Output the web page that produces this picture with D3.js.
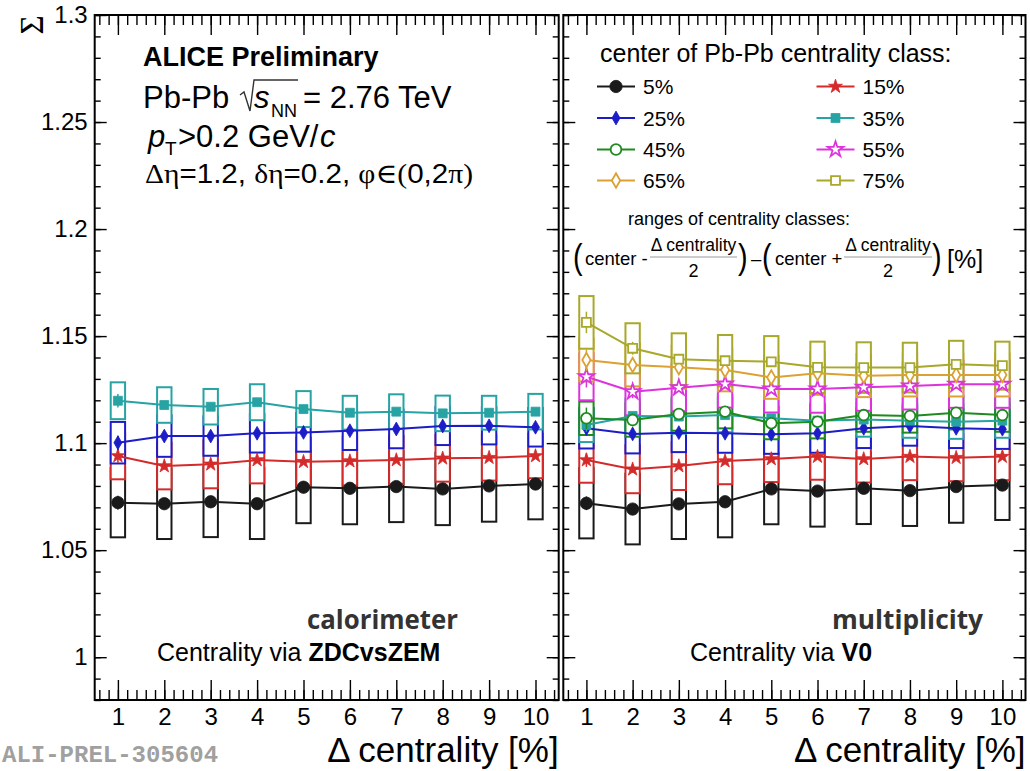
<!DOCTYPE html>
<html lang="en">
<head>
<meta charset="UTF-8" />
<title>Sigma vs delta centrality</title>
<script src="https://d3js.org/d3.v7.min.js"></script>
<style>
  body { margin: 0; background: #fff; }
  text { font-family: "Liberation Sans", Arial, sans-serif; fill: #000; }
  text.serif, tspan.serif { font-family: "Liberation Serif", "DejaVu Serif", serif; }
  text.mono { font-family: "Liberation Mono", "Courier New", monospace; }
  text.label { font-family: "Open Sans", "DejaVu Sans", sans-serif; }
</style>
</head>
<body>
<svg id="chart" width="1030" height="771"></svg>
<script>
// ---- data ----
const deltaCentrality = [1, 2, 3, 4, 5, 6, 7, 8, 9, 10];
const classNames = ["5%", "15%", "25%", "35%", "45%", "55%", "65%", "75%"];
const yTicks = [1, 1.05, 1.1, 1.15, 1.2, 1.25, 1.3];
const yTickLabels = ["1", "1.05", "1.1", "1.15", "1.2", "1.25", "1.3"];

// centrality via ZDCvsZEM
const zdc05 = [1.0722, 1.0717, 1.0726, 1.0717, 1.0794, 1.0789, 1.0797, 1.0786, 1.0800, 1.0809];
const zdc05Sys = [0.0162, 0.0165, 0.0165, 0.0165, 0.0168, 0.0168, 0.0166, 0.0169, 0.0167, 0.0165];
const zdc15 = [1.0940, 1.0893, 1.0901, 1.0921, 1.0913, 1.0916, 1.0921, 1.0929, 1.0932, 1.0940];
const zdc15Sys = [0.0109, 0.0109, 0.0112, 0.0109, 0.0112, 0.0114, 0.0112, 0.0109, 0.0107, 0.0104];
const zdc25 = [1.1002, 1.1033, 1.1033, 1.1046, 1.1050, 1.1058, 1.1066, 1.1080, 1.1081, 1.1074];
const zdc25Sys = [0.0097, 0.0097, 0.0092, 0.0090, 0.0090, 0.0090, 0.0090, 0.0089, 0.0087, 0.0090];
const zdc35 = [1.1198, 1.1178, 1.1170, 1.1191, 1.1159, 1.1142, 1.1147, 1.1139, 1.1142, 1.1147];
const zdc35Sys = [0.0086, 0.0083, 0.0083, 0.0084, 0.0084, 0.0079, 0.0081, 0.0083, 0.0079, 0.0083];

// centrality via V0
const v005 = [1.0719, 1.0692, 1.0716, 1.0726, 1.0786, 1.0776, 1.0789, 1.0778, 1.0797, 1.0804];
const v005Sys = [0.0164, 0.0165, 0.0164, 0.0166, 0.0165, 0.0166, 0.0167, 0.0165, 0.0169, 0.0163];
const v015 = [1.0921, 1.0878, 1.0893, 1.0916, 1.0926, 1.0937, 1.0926, 1.0937, 1.0932, 1.0937];
const v015Sys = [0.0106, 0.0112, 0.0112, 0.0108, 0.0108, 0.0108, 0.0110, 0.0110, 0.0110, 0.0110];
const v025 = [1.1069, 1.1043, 1.1049, 1.1046, 1.1041, 1.1046, 1.1069, 1.1080, 1.1069, 1.1065];
const v025Sys = [0.0094, 0.0091, 0.0091, 0.0091, 0.0091, 0.0091, 0.0092, 0.0092, 0.0092, 0.0092];
const v035 = [1.1085, 1.1127, 1.1124, 1.1131, 1.1116, 1.1105, 1.1110, 1.1105, 1.1100, 1.1105];
const v035Sys = [0.0080, 0.0080, 0.0080, 0.0080, 0.0080, 0.0080, 0.0080, 0.0080, 0.0080, 0.0080];
const v045 = [1.1116, 1.1108, 1.1136, 1.1147, 1.1093, 1.1100, 1.1131, 1.1127, 1.1142, 1.1131];
const v045Sys = [0.0078, 0.0078, 0.0078, 0.0078, 0.0075, 0.0078, 0.0078, 0.0078, 0.0078, 0.0078];
const v055 = [1.1310, 1.1240, 1.1259, 1.1276, 1.1253, 1.1253, 1.1261, 1.1267, 1.1275, 1.1275];
const v055Sys = [0.0110, 0.0110, 0.0110, 0.0110, 0.0110, 0.0111, 0.0110, 0.0110, 0.0110, 0.0110];
const v065 = [1.1388, 1.1365, 1.1354, 1.1342, 1.1307, 1.1326, 1.1315, 1.1318, 1.1318, 1.1318];
const v065Sys = [0.0100, 0.0100, 0.0100, 0.0100, 0.0100, 0.0100, 0.0100, 0.0100, 0.0100, 0.0100];
const v075 = [1.1564, 1.1443, 1.1392, 1.1385, 1.1380, 1.1354, 1.1353, 1.1353, 1.1368, 1.1362];
const v075Sys = [0.0123, 0.0117, 0.0121, 0.0120, 0.0120, 0.0120, 0.0118, 0.0116, 0.0110, 0.0112];

// statistical errors (tiny, visible mostly at small delta centrality)
const statCentral = [0.0032, 0.0017, 0.0012, 0.0010, 0.0009, 0.0008, 0.0008, 0.0007, 0.0007, 0.0007];
const statPeripheral = [0.0050, 0.0030, 0.0020, 0.0016, 0.0014, 0.0013, 0.0012, 0.0011, 0.0011, 0.0010];

// ---- styles ----
const classStyle = [
  { color: "#1a1a1a", shape: d3.symbolCircle, open: false, size: 120 },
  { color: "#d42a2a", shape: d3.symbolStar, open: false, size: 60 },
  { color: "#1c1cc8", shape: d3.symbolDiamond, open: false, size: 55 },
  { color: "#27a3a3", shape: d3.symbolSquare, open: false, size: 80 },
  { color: "#1f8a1f", shape: d3.symbolCircle, open: true, size: 90 },
  { color: "#dd33dd", shape: d3.symbolStar, open: true, size: 75 },
  { color: "#dca132", shape: d3.symbolDiamond, open: true, size: 60 },
  { color: "#a8a82a", shape: d3.symbolSquare, open: true, size: 80 }
];

const zdcSeries = [
  { cls: 0, values: zdc05, sys: zdc05Sys, stat: statCentral },
  { cls: 1, values: zdc15, sys: zdc15Sys, stat: statCentral },
  { cls: 2, values: zdc25, sys: zdc25Sys, stat: statCentral },
  { cls: 3, values: zdc35, sys: zdc35Sys, stat: statCentral }
];
const v0Series = [
  { cls: 0, values: v005, sys: v005Sys, stat: statCentral },
  { cls: 1, values: v015, sys: v015Sys, stat: statCentral },
  { cls: 2, values: v025, sys: v025Sys, stat: statCentral },
  { cls: 3, values: v035, sys: v035Sys, stat: statCentral },
  { cls: 4, values: v045, sys: v045Sys, stat: statPeripheral },
  { cls: 5, values: v055, sys: v055Sys, stat: statPeripheral },
  { cls: 6, values: v065, sys: v065Sys, stat: statPeripheral },
  { cls: 7, values: v075, sys: v075Sys, stat: statPeripheral }
];

const svg = d3.select("#chart");
const plotTop = 15, plotBottom = 700;
const y = d3.scaleLinear().domain([0.98, 1.3]).range([plotBottom, plotTop]);
const xLeft = d3.scaleLinear().domain([0.5, 10.5]).range([94.7, 558.7]);
const xRight = d3.scaleLinear().domain([0.5, 10.5]).range([563.3, 1025.5]);
const boxHalf = 0.155;

const yMinor = d3.range(98, 131).map(d => d / 100);
const xMinor = d3.range(3, 53).map(d => d / 5).filter(d => d > 0.5 && d < 10.5);

function drawAxes(x, showYLabels) {
  const [x0, x1] = x.range();
  const g = svg.append("g").attr("class", "axes");
  const tick = sel => { sel.select(".domain").remove(); sel.selectAll("line").attr("stroke", "#000").attr("stroke-width", 1.4); };

  // left side
  g.append("g").attr("transform", `translate(${x0},0)`)
    .call(d3.axisLeft(y).tickValues(yMinor).tickSize(-6).tickFormat(""))
    .call(tick);
  const yl = g.append("g").attr("transform", `translate(${x0},0)`)
    .call(d3.axisLeft(y).tickValues(yTicks).tickSize(-12).tickPadding(7)
      .tickFormat((d, i) => showYLabels ? yTickLabels[i] : ""))
    .call(tick);
  yl.selectAll("text").attr("font-size", 24).attr("fill", "#000");

  // right side
  g.append("g").attr("transform", `translate(${x1},0)`)
    .call(d3.axisRight(y).tickValues(yMinor).tickSize(-6).tickFormat(""))
    .call(tick);
  g.append("g").attr("transform", `translate(${x1},0)`)
    .call(d3.axisRight(y).tickValues(yTicks).tickSize(-12).tickFormat(""))
    .call(tick);

  // bottom
  g.append("g").attr("transform", `translate(0,${plotBottom})`)
    .call(d3.axisBottom(x).tickValues(xMinor).tickSize(-10).tickFormat(""))
    .call(tick);
  const xb = g.append("g").attr("transform", `translate(0,${plotBottom})`)
    .call(d3.axisBottom(x).tickValues(deltaCentrality).tickSize(-20).tickPadding(8))
    .call(tick);
  xb.selectAll("text").attr("font-size", 24).attr("fill", "#000");

  // top
  g.append("g").attr("transform", `translate(0,${plotTop})`)
    .call(d3.axisTop(x).tickValues(xMinor).tickSize(-10).tickFormat(""))
    .call(tick);
  g.append("g").attr("transform", `translate(0,${plotTop})`)
    .call(d3.axisTop(x).tickValues(deltaCentrality).tickSize(-20).tickFormat(""))
    .call(tick);

  g.append("rect")
    .attr("x", x0).attr("y", plotTop).attr("width", x1 - x0).attr("height", plotBottom - plotTop)
    .attr("fill", "none").attr("stroke", "#000").attr("stroke-width", 2);

  svg.append("text")
    .attr("x", x1).attr("y", 762).attr("text-anchor", "end")
    .attr("font-size", 35)
    .text("\u0394 centrality [%]");
}

function drawPanel(x, series) {
  const g = svg.append("g");
  const pts = s => s.values.map((v, i) => ({ d: deltaCentrality[i], v: v, e: s.sys[i], st: s.stat[i] }));

  // systematic boxes, white-filled, later classes on top
  series.forEach(s => {
    const st = classStyle[s.cls];
    g.append("g").selectAll("rect").data(pts(s)).join("rect")
      .attr("x", p => x(p.d - boxHalf))
      .attr("width", p => x(p.d + boxHalf) - x(p.d - boxHalf))
      .attr("y", p => y(p.v + p.e))
      .attr("height", p => y(p.v - p.e) - y(p.v + p.e))
      .attr("fill", "#fff").attr("stroke", st.color).attr("stroke-width", 2);
  });

  const line = d3.line().x(p => x(p.d)).y(p => y(p.v));
  series.forEach(s => {
    const st = classStyle[s.cls];
    const data = pts(s);
    g.append("g").selectAll("line").data(data).join("line")
      .attr("x1", p => x(p.d)).attr("x2", p => x(p.d))
      .attr("y1", p => y(p.v - p.st)).attr("y2", p => y(p.v + p.st))
      .attr("stroke", st.color).attr("stroke-width", 1.5);
    g.append("path").datum(data)
      .attr("d", line).attr("fill", "none")
      .attr("stroke", st.color).attr("stroke-width", 2);
    g.append("g").selectAll("path").data(data).join("path")
      .attr("transform", p => `translate(${x(p.d)},${y(p.v)})`)
      .attr("d", d3.symbol().type(st.shape).size(st.size))
      .attr("fill", st.open ? "#fff" : st.color)
      .attr("stroke", st.color).attr("stroke-width", st.open ? 1.8 : 0.8);
  });
}

drawPanel(xLeft, zdcSeries);
drawPanel(xRight, v0Series);
drawAxes(xLeft, true);
drawAxes(xRight, false);

// y title
svg.append("text").attr("class", "serif")
  .attr("transform", "translate(43,25) rotate(-90)")
  .attr("text-anchor", "middle").attr("font-size", 33)
  .text("\u03A3");

// ---- left panel labels ----
svg.append("text").attr("x", 143).attr("y", 66)
  .attr("font-size", 27).attr("font-weight", "bold")
  .text("ALICE Preliminary");

svg.append("text").attr("x", 143).attr("y", 108).attr("font-size", 31).text("Pb-Pb");
svg.append("path").attr("d", "M240,95 L244,92 L250,111 L254,80 L298,80")
  .attr("fill", "none").attr("stroke", "#333").attr("stroke-width", 1.4);
svg.append("text").attr("x", 254).attr("y", 108).attr("font-size", 31).attr("font-style", "italic").text("s");
svg.append("text").attr("x", 271).attr("y", 117).attr("font-size", 18).text("NN");
svg.append("text").attr("x", 303).attr("y", 108).attr("font-size", 31).text("= 2.76 TeV");

svg.append("text").attr("x", 148).attr("y", 147).attr("font-size", 31).attr("font-style", "italic").text("p");
svg.append("text").attr("x", 165).attr("y", 155).attr("font-size", 19).text("T");
svg.append("text").attr("x", 178).attr("y", 147).attr("font-size", 31).text(">0.2 GeV/");
svg.append("text").attr("x", 320).attr("y", 147).attr("font-size", 31).attr("font-style", "italic").text("c");

const eta = svg.append("text").attr("x", 145).attr("y", 183).attr("font-size", 28)
  .attr("textLength", 328).attr("lengthAdjust", "spacingAndGlyphs");
eta.append("tspan").attr("class", "serif").text("\u0394\u03B7");
eta.append("tspan").text("=1.2, ");
eta.append("tspan").attr("class", "serif").text("\u03B4\u03B7");
eta.append("tspan").text("=0.2, ");
eta.append("tspan").attr("class", "serif").text("\u03C6\u2208(");
eta.append("tspan").text("0,2");
eta.append("tspan").attr("class", "serif").text("\u03C0)");

svg.append("text").attr("class", "label").attr("x", 307).attr("y", 629)
  .attr("font-weight", "bold").attr("font-size", 27)
  .attr("textLength", 151).attr("lengthAdjust", "spacingAndGlyphs")
  .style("fill", "#333").text("calorimeter");
const cz = svg.append("text").attr("x", 157).attr("y", 661).attr("font-size", 25);
cz.append("tspan").text("Centrality via ");
cz.append("tspan").attr("font-weight", "bold").text("ZDCvsZEM");

// ---- right panel labels ----
svg.append("text").attr("class", "label").attr("x", 832).attr("y", 629)
  .attr("font-weight", "bold").attr("font-size", 27)
  .attr("textLength", 151).attr("lengthAdjust", "spacingAndGlyphs")
  .style("fill", "#333").text("multiplicity");
const cv = svg.append("text").attr("x", 690).attr("y", 661).attr("font-size", 25);
cv.append("tspan").text("Centrality via ");
cv.append("tspan").attr("font-weight", "bold").text("V0");

// legend
svg.append("text").attr("x", 600).attr("y", 62).attr("font-size", 25)
  .text("center of Pb-Pb centrality class:");
const legCols = [616, 835.5];
const legRows = [86.5, 118, 149.5, 180.5];
classNames.forEach((name, i) => {
  const st = classStyle[i];
  const cx = legCols[i % 2], cy = legRows[Math.floor(i / 2)];
  const lg = svg.append("g");
  lg.append("line").attr("x1", cx - 19).attr("x2", cx + 19).attr("y1", cy).attr("y2", cy)
    .attr("stroke", st.color).attr("stroke-width", 2);
  lg.append("path").attr("transform", `translate(${cx},${cy})`)
    .attr("d", d3.symbol().type(st.shape).size(st.size))
    .attr("fill", st.open ? "#fff" : st.color)
    .attr("stroke", st.color).attr("stroke-width", st.open ? 1.8 : 0.8);
  lg.append("text").attr("x", cx + 27).attr("y", cy + 7.5).attr("font-size", 21).text(name);
});

svg.append("text").attr("x", 628).attr("y", 225).attr("font-size", 18)
  .text("ranges of centrality classes:");

function paren(xp, ch) {
  svg.append("text").attr("x", xp).attr("y", 269).attr("font-size", 36)
    .attr("transform", `translate(${xp * 0.2},0) scale(0.8,1)`)
    .text(ch);
}
function fraction(x0, x1) {
  svg.append("text").attr("x", (x0 + x1) / 2).attr("y", 251).attr("text-anchor", "middle")
    .attr("font-size", 17.5).text("\u0394 centrality");
  svg.append("line").attr("x1", x0).attr("x2", x1).attr("y1", 257).attr("y2", 257)
    .attr("stroke", "#999").attr("stroke-width", 1);
  svg.append("text").attr("x", (x0 + x1) / 2).attr("y", 277).attr("text-anchor", "middle")
    .attr("font-size", 18).text("2");
}
paren(573, "(");
svg.append("text").attr("x", 585).attr("y", 265).attr("font-size", 18.5).text("center -");
fraction(650, 737);
paren(738, ")");
svg.append("text").attr("x", 751).attr("y", 265).attr("font-size", 18.5).text("\u2013");
paren(762, "(");
svg.append("text").attr("x", 775).attr("y", 265).attr("font-size", 18.5).text("center +");
fraction(844, 932);
paren(932, ")");
svg.append("text").attr("x", 947).attr("y", 268).attr("font-size", 25).text("[%]");

// watermark
svg.append("text").attr("class", "mono").attr("x", 2).attr("y", 762)
  .attr("font-weight", "bold").attr("font-size", 24)
  .style("fill", "#a0a0a0").text("ALI-PREL-305604");
</script>
</body>
</html>
